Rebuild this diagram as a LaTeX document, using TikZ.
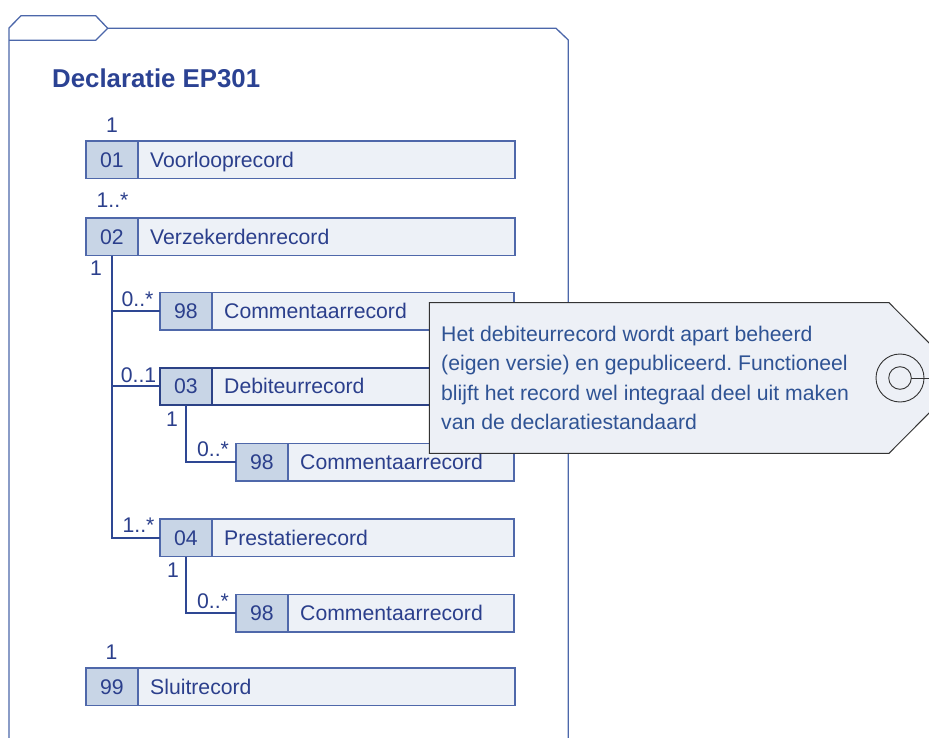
\documentclass[tikz,border=0pt]{standalone}
\usepackage{fontspec}
\setmainfont{Liberation Sans}
\frenchspacing
\definecolor{recline}{HTML}{4F68AA}
\definecolor{darkline}{HTML}{2C4286}
\definecolor{linkblue}{HTML}{2E4793}
\definecolor{numfill}{HTML}{C8D5E6}
\definecolor{txtfill}{HTML}{EDF1F7}
\definecolor{rectext}{HTML}{2B3F8C}
\definecolor{titleblue}{HTML}{2B4293}
\definecolor{notetext}{HTML}{2F5394}
\definecolor{notefill}{HTML}{EDF0F6}
\definecolor{noteline}{HTML}{333333}
\definecolor{frameblue}{HTML}{4C67AA}
\tikzset{
  recfont/.style={font=\fontsize{21.2}{25}\selectfont},
  numcell/.style={draw=recline, fill=numfill, line width=1.2pt, minimum width=52pt,
    minimum height=37.5pt, anchor=north west, inner sep=0pt, outer sep=0pt,
    text=rectext, recfont, text height=15pt, text depth=0pt},
  txtcell/.style={draw=recline, fill=txtfill, line width=1.2pt, minimum height=37.5pt,
    anchor=north west, inner sep=0pt, outer sep=0pt},
  recname/.style={anchor=west, inner sep=0pt, text=rectext, recfont,
    text height=15pt, text depth=0pt},
  strongbox/.style={draw=darkline, line width=2pt},
  mult/.style={inner sep=0pt, text=rectext, recfont, anchor=base},
  link/.style={draw=linkblue, line width=2.1pt},
  framestyle/.style={draw=frameblue, line width=1.3pt},
  notebox/.style={draw=noteline, fill=notefill, line width=1pt},
  noteline/.style={inner sep=0pt, anchor=base west, text=notetext, recfont}
}
\newcommand\recbox[7][]{%
  \node[numcell,#1] (#2n) at (#3,#4) {#6};
  \node[txtcell,#1,minimum width=#5pt] (#2t) at (#2n.north east) {};
  \node[recname] (#2l) at ([xshift=12pt]#2t.west) {#7};
}
\begin{document}
\begin{tikzpicture}[x=1pt,y=-1pt]
\useasboundingbox (0,0) rectangle (929,738);
\clip (0,0) rectangle (929,738);
\fill[white] (0,0) rectangle (929,738);
% frame
\draw[framestyle] (9,745) -- (9,28) -- (21,15.7) -- (95.7,15.7) -- (107.7,28.3)
  -- (556,28.3) -- (568.3,40) -- (568.3,745);
\draw[framestyle] (9,40.3) -- (95.7,40.3) -- (107.7,28.3);
% title
\node[anchor=base west, inner sep=0pt, text=titleblue,
  font=\bfseries\fontsize{25.8}{30}\selectfont] (title) at (52,87.3) {Declaratie EP301};
% records
\recbox{r01}{86}{141}{377}{01}{Voorlooprecord}
\recbox{r02}{86}{218}{377}{02}{Verzekerdenrecord}
\recbox{r98a}{160}{292.5}{302}{98}{Commentaarrecord}
\recbox[strongbox]{r03}{160}{367.5}{302}{03}{Debiteurrecord}
\recbox{r98b}{236}{443.5}{226}{98}{Commentaarrecord}
\recbox{r04}{160}{519}{302}{04}{Prestatierecord}
\recbox{r98c}{236}{594.5}{226}{98}{Commentaarrecord}
\recbox{r99}{86}{668}{377}{99}{Sluitrecord}
% connectors
\draw[link] (r02n.south) |- (r98an.west);
\draw[link] (r02n.south) |- (r03n.west);
\draw[link] (r02n.south) |- (r04n.west);
\draw[link] (r03n.south) |- (r98bn.west);
\draw[link] (r04n.south) |- (r98cn.west);
% multiplicities
\node[mult] (m01) at (112,132.5) {1};
\node[mult] (m02) at (112.5,207.5) {1..*};
\node[mult] (m02b) at (96,276) {1};
\node[mult] (m98a) at (137.5,306.5) {0..*};
\node[mult] (m03) at (138.5,382) {0..1};
\node[mult] (m03b) at (172,426.5) {1};
\node[mult] (m98b) at (213,456.5) {0..*};
\node[mult] (m04) at (138.5,532.5) {1..*};
\node[mult] (m04b) at (173,577.5) {1};
\node[mult] (m98c) at (213,608) {0..*};
\node[mult] (m99) at (111.5,659) {1};
% note tag
\draw[notebox] (429.3,302.7) -- (889,302.7) -- (964,378) -- (889,453.3)
  -- (429.3,453.3) -- cycle;
\draw[draw=noteline, line width=0.9pt] (900,378) circle[radius=24pt];
\draw[draw=noteline, line width=0.9pt] (900,378) circle[radius=11.3pt];
\coordinate (hole) at (911.3,378);
\coordinate (tip) at (964,378);
\draw[draw=noteline, line width=0.9pt] (hole) -- (tip);
\node[noteline] (nt1) at (441,341) {Het debiteurrecord wordt apart beheerd};
\node[noteline] (nt2) at (441,370.5) {(eigen versie) en gepubliceerd. Functioneel};
\node[noteline] (nt3) at (441,400) {blijft het record wel integraal deel uit maken};
\node[noteline] (nt4) at (441,429.5) {van de declaratiestandaard};
\end{tikzpicture}
\end{document}
